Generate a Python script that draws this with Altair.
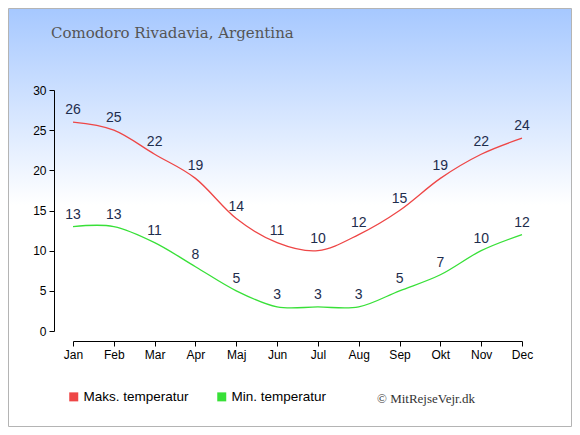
import altair as alt
import pandas as pd

months = ["Jan", "Feb", "Mar", "Apr", "Maj", "Jun", "Jul", "Aug", "Sep", "Okt", "Nov", "Dec"]
max_temps = [26, 25, 22, 19, 14, 11, 10, 12, 15, 19, 22, 24]
min_temps = [13, 13, 11, 8, 5, 3, 3, 3, 5, 7, 10, 12]
series_names = ["Maks. temperatur", "Min. temperatur"]
series_colors = ["#ee4646", "#38e038"]
y_ticks = [0, 5, 10, 15, 20, 25, 30]
title_text = "Comodoro Rivadavia, Argentina"
credit_text = "© MitRejseVejr.dk"

rows = []
for m, v in zip(months, max_temps):
    rows.append({"month": m, "value": v, "series": series_names[0]})
for m, v in zip(months, min_temps):
    rows.append({"month": m, "value": v, "series": series_names[1]})
df = pd.DataFrame(rows)

W, H = 449, 241
PL, PT, PR, PB = 65, 82, 50, 96

x_enc = alt.X("month:N", sort=months,
              scale=alt.Scale(type="point", padding=0),
              axis=alt.Axis(title=None, labelAngle=0, offset=10, tickSize=5,
                            labelPadding=3, labelFontSize=12, labelFont="Liberation Sans",
                            labelColor="#000", domainColor="#000", tickColor="#000",
                            grid=False, zindex=2))
y_enc = alt.Y("value:Q", scale=alt.Scale(domain=[0, 30], nice=False, zero=True),
              axis=alt.Axis(title=None, values=y_ticks, offset=19, tickSize=5,
                            labelPadding=3, labelFontSize=12, labelFont="Liberation Sans",
                            labelColor="#000", domainColor="#000", tickColor="#000",
                            grid=False, zindex=2))

bg = alt.Chart(pd.DataFrame({"k": [0]})).mark_rect(
    fill={"gradient": "linear", "x1": 0, "y1": 0, "x2": 0, "y2": 1,
          "stops": [{"offset": 0, "color": "#a6c8ff"},
                    {"offset": 0.47, "color": "#ffffff"},
                    {"offset": 1, "color": "#ffffff"}]},
    stroke="#b4b4b4", strokeWidth=1
).encode(x=alt.value(-PL + 0.5), x2=alt.value(W + PR - 0.5),
         y=alt.value(-PT + 0.5), y2=alt.value(H + PB - 0.5))

lines = alt.Chart(df).mark_line(interpolate="cardinal", strokeWidth=1.3).encode(
    x=x_enc, y=y_enc,
    color=alt.Color("series:N",
                    scale=alt.Scale(domain=series_names, range=series_colors),
                    legend=alt.Legend(
                        title=None, orient="none", legendX=-6, legendY=300,
                        direction="horizontal", symbolType="square", symbolSize=16,
                        symbolStrokeWidth=5, zindex=2,
                        labelFontSize=13.5, labelFont="Liberation Sans", labelColor="#000",
                        columnPadding=20, labelOffset=3))
)

labels = alt.Chart(df).mark_text(
    dy=-8, baseline="alphabetic", align="center", fontSize=14,
    font="Liberation Sans", color="#1e2d4d"
).encode(x=x_enc, y=y_enc, text=alt.Text("value:Q", format="d"))

title = alt.Chart(pd.DataFrame({"t": [title_text]})).mark_text(
    align="left", baseline="alphabetic", font="DejaVu Serif", fontSize=15, color="#555555"
).encode(x=alt.value(-22), y=alt.value(-52), text="t:N")

credit = alt.Chart(pd.DataFrame({"t": [credit_text]})).mark_text(
    align="left", baseline="alphabetic", font="Liberation Serif", fontSize=13, color="#333333"
).encode(x=alt.value(304), y=alt.value(313), text="t:N")

chart = alt.layer(bg, lines, labels, title, credit).properties(
    width=W, height=H,
    padding={"left": PL, "top": PT, "right": PR, "bottom": PB},
    autosize=alt.AutoSizeParams(type="none"),
).configure_view(stroke=None).configure(background="#ffffff")

chart.save("out.html", embed_options={"renderer": "svg", "actions": False})
